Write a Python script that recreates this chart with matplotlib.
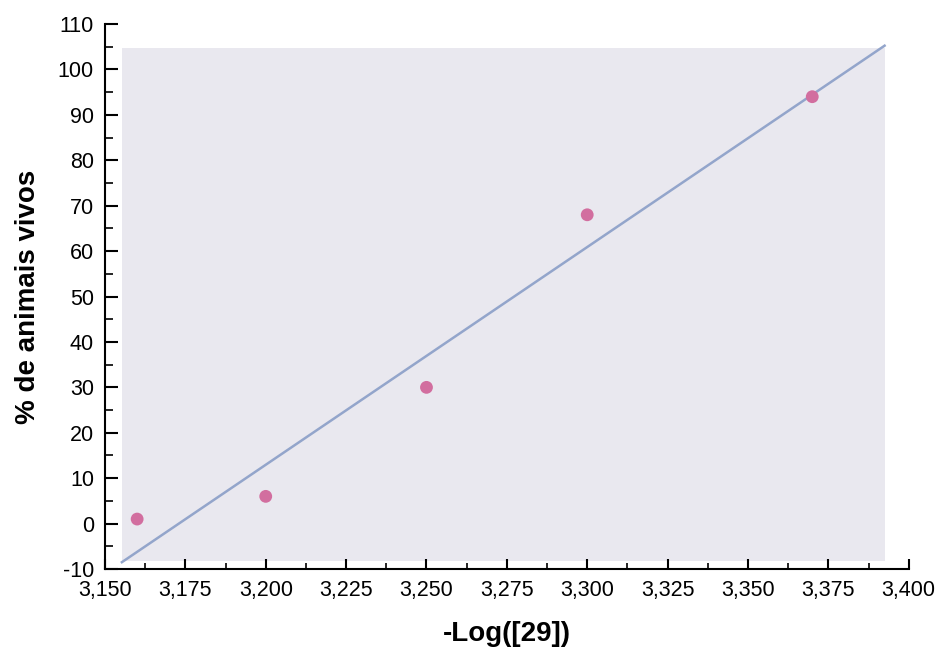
import numpy as np
import matplotlib
matplotlib.use("Agg")
import matplotlib.pyplot as plt
from matplotlib.ticker import FuncFormatter, MultipleLocator
from matplotlib.patches import Rectangle

# data
neg_log_conc = [3.160, 3.200, 3.250, 3.300, 3.370]
pct_alive = [1, 6, 30, 68, 94]

x_ticks = [3.150, 3.175, 3.200, 3.225, 3.250, 3.275, 3.300, 3.325, 3.350, 3.375, 3.400]
y_ticks = list(range(-10, 111, 10))

plt.rcParams['font.family'] = ['Liberation Sans', 'DejaVu Sans']

fig = plt.figure(figsize=(9.4, 6.53), dpi=100)
ax = fig.add_axes([0.1117, 0.1286, 0.855, 0.8346])

ax.set_xlim(3.150, 3.400)
ax.set_ylim(-10, 110)

# grey plot area, a bit inset from the axes
ax.add_patch(Rectangle((0.021, 0.015), 0.949, 0.941, transform=ax.transAxes,
                       facecolor='#e9e8ef', edgecolor='none', zorder=0))

# linear fit across the grey area
slope, intercept = np.polyfit(neg_log_conc, pct_alive, 1)
x0 = 3.150 + 0.021 * 0.25
x1 = 3.150 + 0.970 * 0.25
xs = np.array([x0, x1])
ax.plot(xs, slope * xs + intercept, color='#93a5cb', lw=1.8, zorder=2)

ax.scatter(neg_log_conc, pct_alive, s=85, color='#d26e9f', edgecolor='none', zorder=3)

ax.set_xticks(x_ticks)
ax.set_yticks(y_ticks)
ax.xaxis.set_minor_locator(MultipleLocator(0.0125))
ax.yaxis.set_minor_locator(MultipleLocator(5))
ax.xaxis.set_major_formatter(FuncFormatter(lambda v, p: f"{v:.3f}".replace('.', ',')))
ax.yaxis.set_major_formatter(FuncFormatter(lambda v, p: f"{v:.0f}"))

ax.tick_params(axis='x', which='major', direction='in', length=7, width=1.5, labelsize=15.5, pad=8)
ax.tick_params(axis='x', which='minor', direction='in', length=4, width=1.2)
ax.tick_params(axis='y', which='major', direction='in', length=9, width=1.5, labelsize=15.5, pad=8)
ax.tick_params(axis='y', which='minor', direction='in', length=6, width=1.2)

for side in ['top', 'right']:
    ax.spines[side].set_visible(False)
for side in ['left', 'bottom']:
    ax.spines[side].set_linewidth(1.5)

ax.set_xlabel("-Log([29])", fontsize=20, fontweight='bold', labelpad=14)
ax.set_ylabel("% de animais vivos", fontsize=20, fontweight='bold', labelpad=12)

fig.savefig("out.png", dpi=100)
